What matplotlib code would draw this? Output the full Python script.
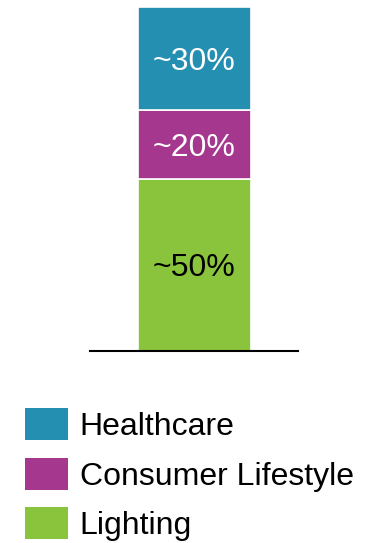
import matplotlib.pyplot as plt
from matplotlib.patches import Patch

plt.rcParams['font.family'] = ['Liberation Sans', 'DejaVu Sans']

# sales split, bottom segment first
segments = ['Lighting', 'Consumer Lifestyle', 'Healthcare']
shares = [50, 20, 30]
labels = ['~50%', '~20%', '~30%']
colors = ['#8AC43C', '#A5378E', '#248FB0']
text_colors = ['black', 'white', 'white']

W, H = 372, 543
fig = plt.figure(figsize=(W / 100, H / 100), dpi=100)
ax = fig.add_axes([90 / W, (H - 351) / H, 208 / W, 344 / H])

bottom = 0
for name, val, lab, c, tc in zip(segments, shares, labels, colors, text_colors):
    ax.bar(0, val, bottom=bottom, width=113 / 208 * 2, color=c,
           edgecolor='white', linewidth=1.2)
    ax.text(0, bottom + val / 2, lab, ha='center', va='center_baseline',
            fontsize=23, color=tc)
    bottom += val

ax.set_xlim(-1, 1)
ax.set_ylim(0, sum(shares))
for s in ['top', 'left', 'right']:
    ax.spines[s].set_visible(False)
ax.spines['bottom'].set_linewidth(1.5)
ax.set_xticks([])
ax.set_yticks([])

handles = [Patch(facecolor=c, edgecolor='none', label=n)
           for n, c in zip(segments[::-1], colors[::-1])]
fig.legend(handles=handles, loc='upper left',
           bbox_to_anchor=(25 / W, 1 - 408 / H), frameon=False,
           fontsize=23, handlelength=1.34, handleheight=1.16,
           handletextpad=0.37, labelspacing=0.5, borderpad=0,
           borderaxespad=0)

fig.savefig('out.png', dpi=100)
